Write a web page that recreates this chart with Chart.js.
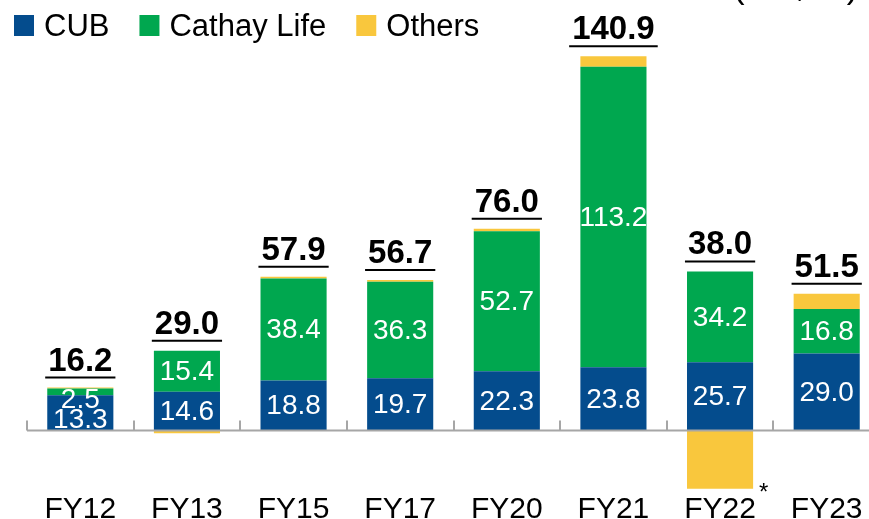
<!DOCTYPE html>
<html><head><meta charset="utf-8">
<script src="https://cdn.jsdelivr.net/npm/chart.js@4.4.1/dist/chart.umd.min.js"></script>
<style>
html,body{margin:0;padding:0;overflow:hidden;background:#fff;width:869px;height:519px}
#wrap{position:absolute;left:0;top:0;width:880px;height:531px}
</style>
</head><body><div id="wrap"><canvas id="c" width="880" height="531"></canvas></div>
<script>
// ---- data (NT$bn) ----
const categories = ['FY12', 'FY13', 'FY15', 'FY17', 'FY20', 'FY21', 'FY22', 'FY23'];
const cub        = [13.3, 14.6, 18.8, 19.7, 22.3, 23.8, 25.7, 29.0];
const cathayLife = [2.5, 15.4, 38.4, 36.3, 52.7, 113.2, 34.2, 16.8];
const others     = [0.4, -1.0, 0.7, 0.7, 1.0, 3.9, -21.9, 5.7];
const totals     = [16.2, 29.0, 57.9, 56.7, 76.0, 140.9, 38.0, 51.5];
const seriesNames = ['CUB', 'Cathay Life', 'Others'];
const footnoteCategory = 'FY22';
const unitText = '(NT$bn)';

const FONT = "'Liberation Sans', Arial, sans-serif";
const COLORS = ['#044C8D', '#00A74F', '#F9C73D'];
const AXIS_GREY = '#A6A6A6';

const decor = {
  id: 'decor',
  afterDatasetsDraw(chart) {
    const ctx = chart.ctx;
    const xs = chart.scales.x, ys = chart.scales.y;
    const m0 = chart.getDatasetMeta(0), m1 = chart.getDatasetMeta(1), m2 = chart.getDatasetMeta(2);
    const y0 = ys.getPixelForValue(0);
    const catW = chart.chartArea.width / categories.length;

    // baseline with category separators
    ctx.save();
    ctx.strokeStyle = AXIS_GREY;
    ctx.lineWidth = 2;
    ctx.beginPath();
    ctx.moveTo(chart.chartArea.left, y0);
    ctx.lineTo(chart.chartArea.right, y0);
    for (let j = 0; j <= categories.length; j++) {
      const x = Math.round(xs.getPixelForValue(0) - catW / 2 + j * catW);
      ctx.moveTo(x, y0);
      ctx.lineTo(x, y0 - 10);
    }
    ctx.stroke();
    ctx.restore();

    // value labels inside bars
    ctx.save();
    ctx.fillStyle = '#fff';
    ctx.font = '28px ' + FONT;
    ctx.textAlign = 'center';
    ctx.textBaseline = 'middle';
    const h = 20;
    for (let j = 0; j < categories.length; j++) {
      const a = m0.data[j], b = m1.data[j];
      let c0 = (a.y + a.base) / 2, c1 = (b.y + b.base) / 2;
      if (c0 - c1 < h + 6) {
        c1 = b.y + h / 2 + 1;
        c0 = a.base - h / 2 - 1;
      }
      ctx.fillText(cub[j].toFixed(1), a.x, c0 + 1);
      ctx.fillText(cathayLife[j].toFixed(1), b.x, c1 + 1);
    }
    ctx.restore();

    // totals, bold + underlined
    ctx.save();
    ctx.fillStyle = '#000';
    ctx.strokeStyle = '#000';
    ctx.font = 'bold 33px ' + FONT;
    ctx.textAlign = 'center';
    ctx.textBaseline = 'alphabetic';
    ctx.lineWidth = 2;
    for (let j = 0; j < categories.length; j++) {
      let top = Math.min(m0.data[j].y, m1.data[j].y);
      if (others[j] > 0) top = Math.min(top, m2.data[j].y);
      const x = m0.data[j].x;
      const base = top - 17;
      const txt = totals[j].toFixed(1);
      const w = ctx.measureText(txt).width;
      ctx.fillText(txt, x, base);
      ctx.beginPath();
      ctx.moveTo(x - w / 2 - 3, base + 7);
      ctx.lineTo(x + w / 2 + 3, base + 7);
      ctx.stroke();
    }
    ctx.restore();
  },
  afterDraw(chart) {
    const ctx = chart.ctx;
    const xs = chart.scales.x;
    // legend
    ctx.save();
    ctx.font = '31px ' + FONT;
    ctx.textBaseline = 'alphabetic';
    ctx.textAlign = 'left';
    let x = 14;
    chart.data.datasets.forEach((ds) => {
      ctx.fillStyle = ds.backgroundColor;
      ctx.fillRect(x, 15, 20, 21);
      ctx.fillStyle = '#000';
      ctx.fillText(ds.label, x + 30, 36);
      x += 30 + ctx.measureText(ds.label).width + 30;
    });
    // unit (mostly cut off at the top edge like the reference)
    ctx.font = '34px ' + FONT;
    ctx.textAlign = 'right';
    ctx.fillText(unitText, 858, -2);
    // footnote asterisk
    const k = categories.indexOf(footnoteCategory);
    ctx.font = '24px ' + FONT;
    ctx.textAlign = 'left';
    ctx.textBaseline = 'top';
    ctx.fillText('*', xs.getPixelForValue(k) + 39, 481);
    ctx.restore();
  }
};

new Chart(document.getElementById('c'), {
  type: 'bar',
  data: {
    labels: categories,
    datasets: [
      { label: seriesNames[0], data: cub, backgroundColor: COLORS[0] },
      { label: seriesNames[1], data: cathayLife, backgroundColor: COLORS[1] },
      { label: seriesNames[2], data: others, backgroundColor: COLORS[2] }
    ]
  },
  options: {
    responsive: false,
    devicePixelRatio: 1,
    animation: false,
    datasets: { bar: { barPercentage: 0.62, categoryPercentage: 1, borderWidth: 0 } },
    layout: { padding: { left: 27, right: 0, top: 56, bottom: 0 } },
    plugins: { legend: { display: false }, tooltip: { enabled: false } },
    scales: {
      x: {
        stacked: true,
        grid: { display: false, drawTicks: false },
        border: { display: false },
        ticks: { color: '#000', font: { family: FONT, size: 30 }, padding: 3, maxRotation: 0, autoSkip: false }
      },
      y: { stacked: true, display: false, min: -22, max: 141 }
    }
  },
  plugins: [decor]
});
</script>
</body></html>
